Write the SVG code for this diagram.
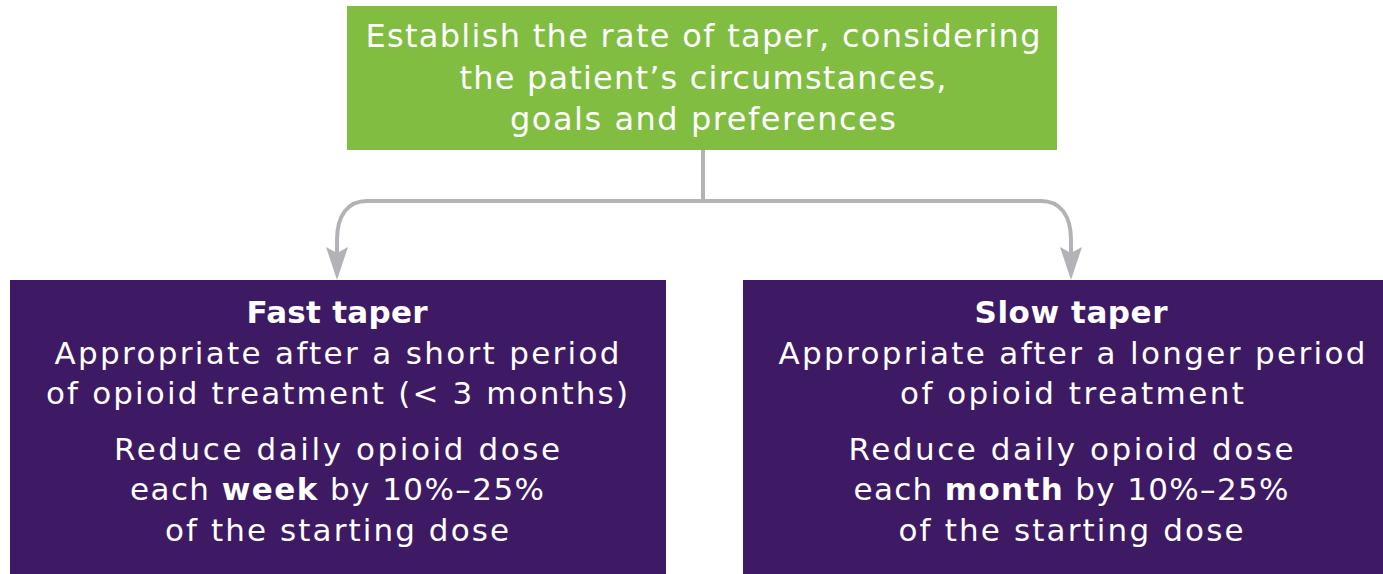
<svg xmlns="http://www.w3.org/2000/svg" width="1383" height="574" viewBox="0 0 1383 574">
<style>
.t{font-family:"DejaVu Sans","Liberation Sans",sans-serif;fill:#fff;text-anchor:middle}
.g{font-size:32px}
.p{font-size:31px}
.b{font-weight:bold}
.c{fill:none;stroke:#b1b3b6;stroke-width:4}
.h{fill:#b1b3b6}
</style>
<rect width="1383" height="574" fill="#fff"/>
<g id="connectors">
<path class="c" d="M703 150 V201"/>
<path class="c" d="M367 201 H1041 C1060 201 1071 215 1071 240 V258 M367 201 C348 201 337 215 337 240 V258"/>
<polygon class="h" points="337,280 326,247 337,253 348,247"/>
<polygon class="h" points="1071,280 1060,247 1071,253 1082,247"/>
</g>
<g id="start">
<rect x="347" y="6" width="710" height="144" fill="#80bd41"/>
<text class="t g" x="703" y="47" textLength="675" lengthAdjust="spacing">Establish the rate of taper, considering</text>
<text class="t g" x="703" y="89" textLength="487" lengthAdjust="spacing">the patient’s circumstances,</text>
<text class="t g" x="703" y="130" textLength="386" lengthAdjust="spacing">goals and preferences</text>
</g>
<g id="fast">
<rect x="10" y="280" width="656" height="294" fill="#3d1a63"/>
<text class="t p b" x="337" y="323" textLength="181" lengthAdjust="spacing">Fast taper</text>
<text class="t p" x="337" y="364" textLength="565" lengthAdjust="spacing">Appropriate after a short period</text>
<text class="t p" x="337" y="404" textLength="582" lengthAdjust="spacing">of opioid treatment (&lt; 3 months)</text>
<text class="t p" x="337" y="460" textLength="446" lengthAdjust="spacing">Reduce daily opioid dose</text>
<text class="t p" x="337" y="500" textLength="414" lengthAdjust="spacing">each <tspan class="b">week</tspan> by 10%–25%</text>
<text class="t p" x="337" y="541" textLength="344" lengthAdjust="spacing">of the starting dose</text>
</g>
<g id="slow">
<rect x="743" y="280" width="640" height="294" fill="#3d1a63"/>
<text class="t p b" x="1071" y="323" textLength="193" lengthAdjust="spacing">Slow taper</text>
<text class="t p" x="1072" y="364" textLength="587" lengthAdjust="spacing">Appropriate after a longer period</text>
<text class="t p" x="1072" y="404" textLength="344" lengthAdjust="spacing">of opioid treatment</text>
<text class="t p" x="1071" y="460" textLength="445" lengthAdjust="spacing">Reduce daily opioid dose</text>
<text class="t p" x="1071" y="500" textLength="435" lengthAdjust="spacing">each <tspan class="b">month</tspan> by 10%–25%</text>
<text class="t p" x="1071" y="541" textLength="345" lengthAdjust="spacing">of the starting dose</text>
</g>
</svg>
